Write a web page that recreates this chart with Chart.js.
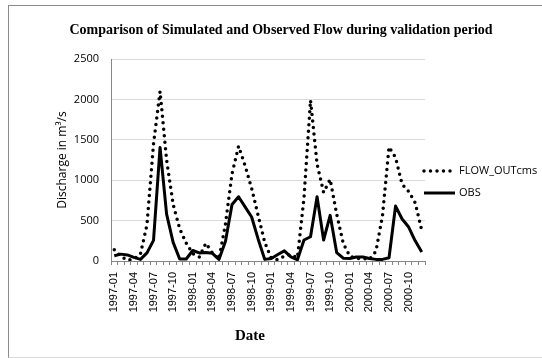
<!DOCTYPE html>
<html lang="en">
<head>
    <meta charset="utf-8">
    <script src="https://cdn.jsdelivr.net/npm/chart.js@4.4.0/dist/chart.umd.min.js"></script>
    <style>
        body { margin: 0; background: #fff; }
        #marco { position: absolute; left: 8px; top: 5px; width: 540px; height: 351px;
                 border: 1px solid #8c8c8c; border-bottom-color: #d9d9d9; border-right: none; }
        #grafica { position: absolute; left: 0; top: 0; }
    </style>
</head>
<body>
    <div id="marco"></div>
    <canvas id="grafica" width="542" height="358"></canvas>
<script>
    const fechas = [
        '1997-01','1997-02','1997-03','1997-04','1997-05','1997-06','1997-07','1997-08','1997-09','1997-10','1997-11','1997-12',
        '1998-01','1998-02','1998-03','1998-04','1998-05','1998-06','1998-07','1998-08','1998-09','1998-10','1998-11','1998-12',
        '1999-01','1999-02','1999-03','1999-04','1999-05','1999-06','1999-07','1999-08','1999-09','1999-10','1999-11','1999-12',
        '2000-01','2000-02','2000-03','2000-04','2000-05','2000-06','2000-07','2000-08','2000-09','2000-10','2000-11','2000-12'
    ]

    // caudal simulado (linea punteada)
    const flowOut = [
        140, 60, 10, 25, 85, 450, 1450, 2100, 1250, 700, 400, 220,
        90, 50, 220, 100, 25, 460, 1080, 1420, 1180, 900, 560, 230,
        35, 15, 60, 80, 40, 780, 1990, 1200, 850, 1010, 580, 220,
        60, 30, 30, 20, 120, 560, 1410, 1280, 950, 860, 720, 380
    ]

    // caudal observado
    const obs = [
        65, 85, 75, 45, 20, 100, 255, 1405, 580, 230, 25, 25,
        130, 100, 105, 95, 20, 245, 700, 795, 670, 545, 270, 20,
        30, 80, 125, 50, 15, 260, 300, 795, 260, 565, 105, 35,
        30, 50, 50, 30, 20, 20, 40, 680, 520, 420, 250, 110
    ]

    const titulo = 'Comparison of Simulated and Observed Flow during validation period'

    // titulo, etiqueta "Date" y leyenda dibujados a mano
    const decoracion = {
        id: 'decoracion',
        afterDraw(chart) {
            const ctx = chart.ctx
            ctx.save()
            ctx.fillStyle = '#000'
            ctx.textAlign = 'center'
            ctx.textBaseline = 'middle'
            ctx.font = 'bold 14px "Liberation Serif"'
            ctx.fillText(titulo, 281, 30)
            ctx.font = 'bold 15px "Liberation Serif"'
            ctx.fillText('Date', 250, 336)

            ctx.font = '11px "Open Sans"'
            ctx.textAlign = 'left'
            const filas = [171, 193]
            chart.data.datasets.forEach((ds, i) => {
                const y = filas[i]
                ctx.beginPath()
                ctx.strokeStyle = ds.borderColor
                ctx.lineWidth = ds.borderWidth
                ctx.lineCap = ds.borderCapStyle || 'butt'
                ctx.setLineDash(ds.borderDash || [])
                ctx.moveTo(424, y)
                ctx.lineTo(455, y)
                ctx.stroke()
                ctx.setLineDash([])
                ctx.fillText(ds.label, 459, y)
            })
            ctx.restore()
        }
    }

    const contenedor = document.querySelector('#grafica')
    const grafica = new Chart(contenedor, {
        type: 'line',
        data: {
            labels: fechas,
            datasets: [{
                label: 'FLOW_OUTcms',
                data: flowOut,
                borderColor: '#000',
                borderWidth: 3.5,
                borderDash: [0, 6.5],
                borderCapStyle: 'round',
                pointRadius: 0,
                tension: 0
            }, {
                label: 'OBS',
                data: obs,
                borderColor: '#000',
                borderWidth: 3,
                borderJoinStyle: 'round',
                pointRadius: 0,
                tension: 0
            }]
        },
        options: {
            responsive: false,
            animation: false,
            layout: { padding: { left: 0, right: 117, top: 59, bottom: 0 } },
            plugins: {
                legend: { display: false },
                tooltip: { enabled: false }
            },
            scales: {
                x: {
                    offset: true,
                    grid: { drawOnChartArea: false, drawTicks: true, tickLength: 4, offset: true, color: '#868686' },
                    border: { color: '#868686' },
                    ticks: {
                        autoSkip: false,
                        maxRotation: 90,
                        minRotation: 90,
                        padding: 7,
                        color: '#000',
                        font: { family: 'Liberation Sans', size: 11 },
                        callback: function (valor, i) {
                            return i % 3 === 0 ? this.getLabelForValue(valor) : ''
                        }
                    },
                    afterFit: (escala) => { escala.height = 97 }
                },
                y: {
                    min: 0,
                    max: 2500,
                    grid: { color: '#d9d9d9', drawTicks: false },
                    border: { color: '#868686' },
                    ticks: {
                        stepSize: 500,
                        padding: 12,
                        color: '#000',
                        font: { family: 'Open Sans', size: 11 },
                        callback: (valor) => String(valor)
                    },
                    title: {
                        display: true,
                        text: 'Discharge in m³/s',
                        color: '#000',
                        font: { family: 'Open Sans', size: 12 },
                        padding: { top: 55, bottom: 0 }
                    },
                    afterFit: (escala) => { escala.width = 111 }
                }
            }
        },
        plugins: [decoracion]
    })
</script>
</body>
</html>
